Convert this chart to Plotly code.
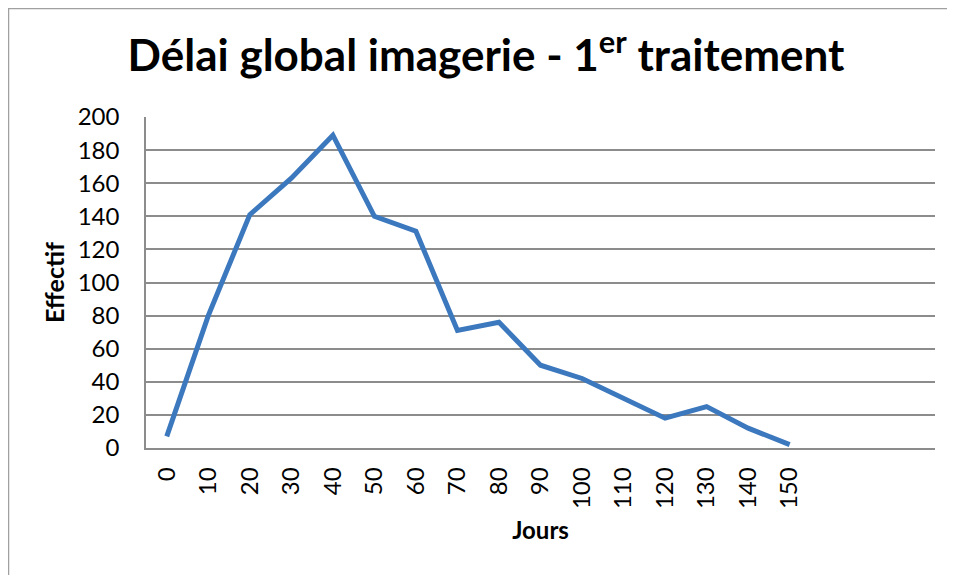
import plotly.graph_objects as go

jours = ["0", "10", "20", "30", "40", "50", "60", "70", "80", "90",
         "100", "110", "120", "130", "140", "150"]
effectif = [7, 80, 141, 163, 189, 140, 131, 71, 76, 50, 42, 30, 18, 25, 12, 2]
n_slots = 19  # category slots on the axis (last ones empty)
y_ticks = [0, 20, 40, 60, 80, 100, 120, 140, 160, 180, 200]

FONT = "Lato"
idx = list(range(len(jours)))

fig = go.Figure()
fig.add_trace(go.Scatter(
    x=idx, y=effectif, mode="lines",
    line=dict(color="#3C78BE", width=5),
    showlegend=False, hoverinfo="skip",
))

OFF = 8  # page body margin
W, H = 955, 575
L = 146 - OFF
T = 117 - OFF
R = W + OFF - 935
B = H + OFF - 448
pw, ph = W - L - R, H - T - B

def px_x(p):
    return (p - OFF - L) / pw

def px_y(p):
    return (H - B - (p - OFF)) / ph

fig.update_layout(
    width=W, height=H,
    margin=dict(l=L, r=R, t=T, b=B),
    paper_bgcolor="white", plot_bgcolor="white",
    font=dict(family=FONT, color="black"),
    title=dict(
        text="Délai global imagerie - 1<sup>er</sup> traitement",
        x=(486 - OFF) / W, xref="container", xanchor="center",
        y=1 - (56 - OFF) / H, yref="container", yanchor="middle",
        font=dict(family=FONT, size=44, color="black", weight="bold"),
    ),
    xaxis=dict(
        range=[-0.5, n_slots - 0.5],
        tickvals=idx, ticktext=jours, tickangle=-90,
        tickfont=dict(size=24, family=FONT),
        showgrid=False, zeroline=False,
        showline=True, linecolor="#8C8C8C", linewidth=1.5,
        ticks="", ticklabelstandoff=8,
        title=dict(text="<b>Jours</b>", font=dict(size=24, family=FONT), standoff=14),
    ),
    yaxis=dict(
        range=[0, 200], tickvals=y_ticks,
        tickfont=dict(size=24, family=FONT),
        showgrid=True, gridcolor="#8C8C8C", gridwidth=1.5,
        zeroline=False,
        showline=True, linecolor="#8C8C8C", linewidth=1.5,
        ticks="", ticklabelstandoff=20,
        title=dict(text="<b>Effectif</b>", font=dict(size=25, family=FONT), standoff=6),
    ),
    shapes=[dict(
        type="rect", xref="paper", yref="paper",
        x0=px_x(OFF + 0.5), x1=px_x(952), y0=px_y(620), y1=px_y(OFF + 0.5),
        line=dict(color="#A0A0A0", width=1.5), fillcolor="rgba(0,0,0,0)",
        layer="below",
    )],
)

fig.write_html("out.html")
